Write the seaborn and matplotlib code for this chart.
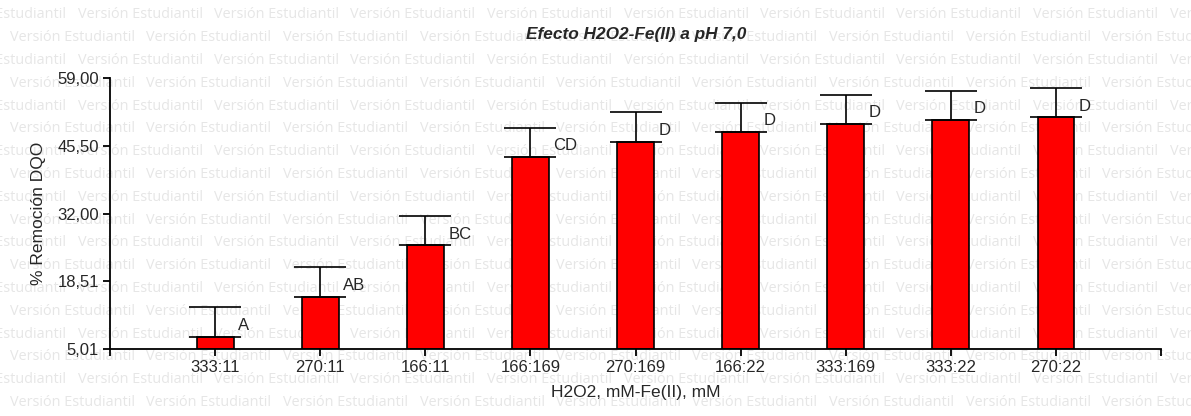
import matplotlib
matplotlib.use("Agg")
import matplotlib.pyplot as plt
import seaborn as sns
import pandas as pd
import numpy as np

categories = ["333:11", "270:11", "166:11", "166:169", "270:169", "166:22", "333:169", "333:22", "270:22"]
means = [7.5, 15.4, 25.7, 43.3, 46.2, 48.2, 49.8, 50.6, 51.2]
upper = [13.4, 21.3, 31.5, 49.0, 52.2, 54.1, 55.7, 56.5, 57.0]
letters = ["A", "AB", "BC", "CD", "D", "D", "D", "D", "D"]
yticks = [5.01, 18.51, 32.00, 45.50, 59.00]
ytick_labels = ["5,01", "18,51", "32,00", "45,50", "59,00"]

df = pd.DataFrame({"cat": categories, "val": means})
errs = [u - m for u, m in zip(upper, means)]

sns.set_style("white")
plt.rcParams["font.family"] = ["Liberation Sans", "DejaVu Sans"]

fig = plt.figure(figsize=(11.91, 4.16), dpi=100)
ax = fig.add_axes([0.0924, 0.161, 0.9748 - 0.0924, 0.8125 - 0.161])
ax.set_facecolor("none")

# watermark
wm = "Versión Estudiantil"
period = 136.5
row_h = 22.8
for r in range(19):
    ypix = 416 - (15 + r * row_h)
    off = 10 if r % 2 == 1 else 10 - 69
    x = off
    while x < 1191:
        fig.text(x / 1191, ypix / 416, wm, fontsize=10.4, color="#e6e6e6",
                 family=["Open Sans", "DejaVu Sans"], va="center", ha="left", zorder=-5)
        x += period

sns.barplot(data=df, x="cat", y="val", order=categories, color="#ff0000",
            edgecolor="black", linewidth=1.2, width=0.35, ax=ax, saturation=1)
# rebase bars at axis floor
for p in ax.patches:
    h = p.get_height()
    p.set_y(yticks[0])
    p.set_height(h - yticks[0])

xs = np.arange(len(categories))
ax.errorbar(xs, means, yerr=[np.zeros(len(errs)), errs], fmt="none",
            ecolor="black", elinewidth=1.2, capsize=18.5, capthick=1.2, zorder=3)

for x, m, e, lab in zip(xs, means, errs, letters):
    ax.text(x + 0.22, m + e * 0.38, lab, fontsize=12, ha="left", va="center")

ax.set_xlim(-1, 9)
ax.set_ylim(yticks[0], yticks[-1])
ax.set_xticks(list(range(-1, 10)))
ax.set_xticklabels([""] + categories + [""], fontsize=12)
ax.set_yticks(yticks)
ax.set_yticklabels(ytick_labels, fontsize=12)
ax.tick_params(axis="both", direction="out", length=5, width=1.3, color="black",
               left=True, bottom=True, pad=3)
for s in ["top", "right"]:
    ax.spines[s].set_visible(False)
for s in ["left", "bottom"]:
    ax.spines[s].set_color("black")
    ax.spines[s].set_linewidth(1.3)
    ax.spines[s].set_zorder(4)

ax.set_xlabel("H2O2, mM-Fe(II), mM", fontsize=12.5, labelpad=7)
ax.set_ylabel("% Remoción DQO", fontsize=12.5, labelpad=8)
fig.text(636 / 1191, 1 - 35 / 416, "Efecto H2O2-Fe(II) a pH 7,0", fontsize=12.4,
         fontweight="bold", fontstyle="italic", ha="center", va="center")

fig.savefig("out.png", dpi=100)
